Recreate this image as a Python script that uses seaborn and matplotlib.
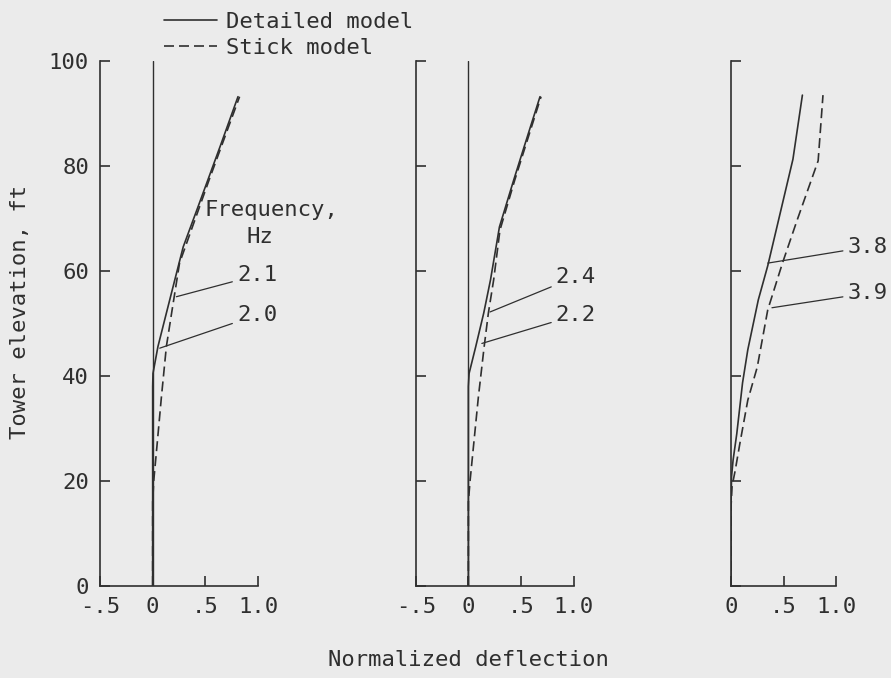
import numpy as np
import matplotlib
matplotlib.use("Agg")
import matplotlib.pyplot as plt
import pandas as pd
import seaborn as sns

sns.set_theme(style="ticks")
plt.rcParams['font.family'] = ['DejaVu Sans Mono', 'DejaVu Sans']

# deflection shapes (elevation ft, normalized deflection)
p1_det_elev = [0, 20, 38, 40.5, 45.6, 50.7, 58.3, 64.6, 72.2, 83.7, 93.2]
p1_det_defl = [0, 0, 0, 0.003, 0.05, 0.114, 0.21, 0.29, 0.43, 0.64, 0.81]
p1_stk_elev = [0, 16, 20, 26.5, 36, 45.6, 52, 61.5, 77.3, 93.2]
p1_stk_defl = [0, 0, 0.01, 0.04, 0.083, 0.13, 0.18, 0.255, 0.535, 0.825]

p2_det_elev = [0, 38, 40.5, 45.6, 52, 58.3, 68.4, 77.3, 83.7, 93.2]
p2_det_defl = [0, 0, 0.007, 0.07, 0.146, 0.21, 0.295, 0.43, 0.53, 0.68]
p2_stk_elev = [0, 16, 20, 26.5, 36, 45.6, 52, 58.3, 67.8, 77.3, 93.2]
p2_stk_defl = [0, 0, 0.016, 0.048, 0.095, 0.15, 0.19, 0.24, 0.30, 0.44, 0.69]

p3_det_elev = [0, 15, 20.8, 24, 29, 38.7, 45, 54.5, 61, 81.3, 93.5]
p3_det_defl = [0, 0, 0.005, 0.02, 0.055, 0.11, 0.16, 0.26, 0.35, 0.59, 0.68]
p3_stk_elev = [0, 15, 19, 22, 27.2, 35.4, 41.7, 52.6, 61.5, 69.7, 81, 93.5]
p3_stk_defl = [0, 0, 0.01, 0.04, 0.085, 0.16, 0.25, 0.35, 0.49, 0.63, 0.83, 0.876]

models = ["Detailed model", "Stick model"]

# frequency labels: text, leader tip (defl, elev), text position (defl, elev)
p1_freq = ["2.1", "2.0"]
p1_tip = [(0.225, 55.1), (0.067, 45.3)]
p1_txt = [(0.80, 59.2), (0.80, 51.6)]
p2_freq = ["2.4", "2.2"]
p2_tip = [(0.206, 52.2), (0.128, 46.2)]
p2_txt = [(0.83, 58.9), (0.83, 51.6)]
p3_freq = ["3.8", "3.9"]
p3_tip = [(0.35, 61.5), (0.39, 53.0)]
p3_txt = [(1.11, 64.6), (1.11, 55.8)]

xticks_full = [-0.5, 0, 0.5, 1.0]
xlabels_full = ["-.5", "0", ".5", "1.0"]
xticks_pos = [0, 0.5, 1.0]
xlabels_pos = ["0", ".5", "1.0"]
yticks = [0, 20, 40, 60, 80, 100]

ink = "#2f2f2f"
bg = "#ebebeb"
fs = 16

def make_df(det_e, det_d, stk_e, stk_d):
    a = pd.DataFrame({"elev": det_e, "defl": det_d, "model": models[0]})
    b = pd.DataFrame({"elev": stk_e, "defl": stk_d, "model": models[1]})
    return pd.concat([a, b], ignore_index=True)

panels = [
    (make_df(p1_det_elev, p1_det_defl, p1_stk_elev, p1_stk_defl), p1_freq, p1_tip, p1_txt, True),
    (make_df(p2_det_elev, p2_det_defl, p2_stk_elev, p2_stk_defl), p2_freq, p2_tip, p2_txt, True),
    (make_df(p3_det_elev, p3_det_defl, p3_stk_elev, p3_stk_defl), p3_freq, p3_tip, p3_txt, False),
]

W, H = 891, 678
fig = plt.figure(figsize=(W / 100, H / 100), dpi=100, facecolor=bg)
rects = [
    (100 / W, 1 - 586 / H, 158 / W, 525 / H),
    (415.7 / W, 1 - 586 / H, 158 / W, 525 / H),
    (731 / W, 1 - 586 / H, 105 / W, 525 / H),
]

axes = []
for i, (df, freq, tips, txts, full) in enumerate(panels):
    ax = fig.add_axes(rects[i])
    ax.set_facecolor("none")
    if full:
        ax.axvline(0, color=ink, lw=1.0)
    sns.lineplot(data=df, x="defl", y="elev", style="model", units="model",
                 estimator=None, sort=False, orient="y", color=ink, lw=1.2,
                 dashes={models[0]: "", models[1]: (6, 3)}, ax=ax, legend=(i == 0))
    ax.set_ylim(0, 100)
    if full:
        ax.set_xlim(-0.5, 1.0)
        ax.set_xticks(xticks_full, xlabels_full)
    else:
        ax.set_xlim(0, 1.0)
        ax.set_xticks(xticks_pos, xlabels_pos)
    ax.set_yticks(yticks)
    if i > 0:
        ax.set_yticklabels([])
    ax.set_xlabel("")
    ax.set_ylabel("")
    for s in ["top", "right"]:
        ax.spines[s].set_visible(False)
    for s in ["left", "bottom"]:
        ax.spines[s].set_color(ink)
        ax.spines[s].set_linewidth(1.2)
    ax.tick_params(direction="in", length=7, width=1.2, color=ink,
                   labelsize=fs, labelcolor=ink, pad=8)
    for lab, tip, txt in zip(freq, tips, txts):
        ax.annotate(lab, xy=tip, xytext=txt, ha="left", va="center",
                    fontsize=fs, color=ink, annotation_clip=False,
                    arrowprops=dict(arrowstyle="-", color=ink, lw=0.9,
                                    shrinkA=1, shrinkB=0))
    axes.append(ax)

ax1 = axes[0]
ax1.text(0.495, 71.6, "Frequency,", fontsize=fs, color=ink, ha="left", va="center")
ax1.text(1.02, 66.5, "Hz", fontsize=fs, color=ink, ha="center", va="center")

leg = ax1.legend(loc="upper left", bbox_to_anchor=(164 / W, 1 - 12 / H),
                 bbox_transform=fig.transFigure, frameon=False, fontsize=fs,
                 handlelength=2.4, handletextpad=0.4, labelspacing=0.28,
                 borderpad=0, borderaxespad=0)
for t in leg.get_texts():
    t.set_color(ink)

fig.text(20 / W, 1 - 312 / H, "Tower elevation, ft", rotation=90, fontsize=fs,
         color=ink, ha="center", va="center")
fig.text(468 / W, 1 - 660 / H, "Normalized deflection", fontsize=fs,
         color=ink, ha="center", va="center")

fig.savefig("out.png", dpi=100, facecolor=bg)
